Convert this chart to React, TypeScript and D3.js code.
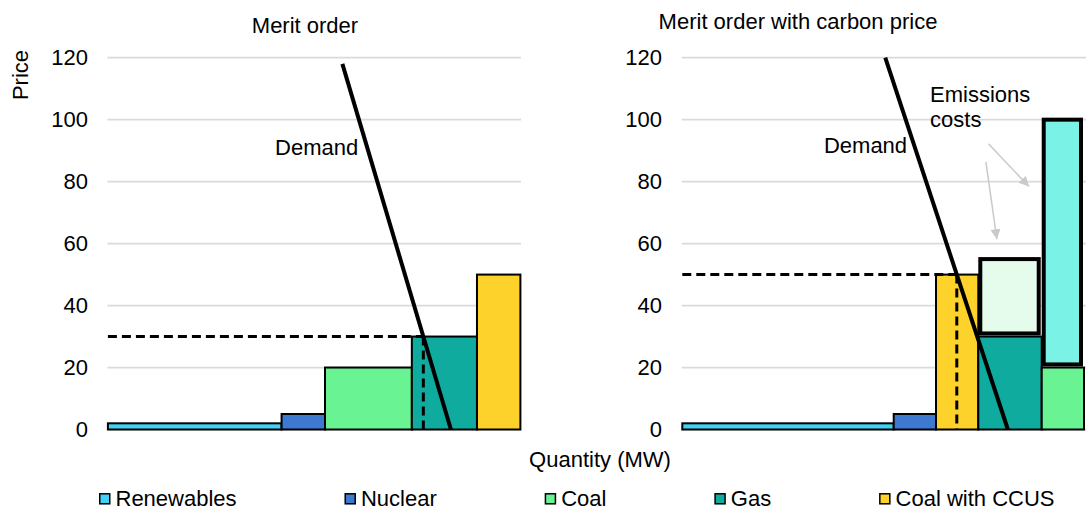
import React from "react";
import * as d3 from "d3";

// merit order, no carbon price
const leftTechs = ["Renewables", "Nuclear", "Coal", "Gas", "Coal with CCUS"];
const leftCapacity = [40, 10, 20, 15, 10];
const leftCost = [2, 5, 20, 30, 50];
const leftDemand: [number, number][] = [[54, 118], [79, 0]];
const leftClearing = 30;

// merit order with carbon price
const rightTechs = ["Renewables", "Nuclear", "Coal with CCUS", "Gas", "Coal"];
const rightCapacity = [50, 10, 10, 15, 10];
const rightCost = [2, 5, 50, 30, 20];
const rightCarbon = [0, 0, 0, 25, 80];
const rightDemand: [number, number][] = [[48, 120], [77, 0]];
const rightClearing = 50;

const yTicks = [0, 20, 40, 60, 80, 100, 120];
const legendItems = ["Renewables", "Nuclear", "Coal", "Gas", "Coal with CCUS"];

// annotation anchors (quantity, price)
const demandLabelLeft: [number, number] = [38.5, 88.6];
const demandLabelRight: [number, number] = [33.5, 89.3];
const emissionsLabel: [number, number] = [58.6, 105.8];
const emissionsArrows: { from: [number, number]; to: [number, number] }[] = [
  { from: [72.4, 92.2], to: [82, 78.4] },
  { from: [71.8, 86.4], to: [74.4, 61.4] },
];

const colors: Record<string, string> = {
  Renewables: "#42d0f6",
  Nuclear: "#3d79d1",
  Coal: "#69f393",
  Gas: "#10ab9f",
  "Coal with CCUS": "#fdd22b",
};
const carbonColors: Record<string, string> = {
  Gas: "#e5fcec",
  Coal: "#7af3e6",
};

const FONT = '"Liberation Sans", Arial, sans-serif';
const FS = 22;

const measure = (s: string) => {
  const ctx = document.createElement("canvas").getContext("2d");
  if (!ctx) return s.length * FS * 0.55;
  ctx.font = `${FS}px ${FONT}`;
  return ctx.measureText(s).width;
};

const W = 1086;
const H = 511;
const y = d3.scaleLinear().domain([0, 120]).range([429.5, 57.7]);

const clearingQ = (dem: [number, number][], p: number) => {
  const [[q0, p0], [q1, p1]] = dem;
  return q0 + ((q1 - q0) * (p0 - p)) / (p0 - p1);
};

interface PanelProps {
  x: d3.ScaleLinear<number, number>;
  gridX: [number, number];
  tickX: number;
  techs: string[];
  capacity: number[];
  cost: number[];
  carbon?: number[];
  demand: [number, number][];
  clearing: number;
}

const Panel = ({ x, gridX, tickX, techs, capacity, cost, carbon, demand, clearing }: PanelProps) => {
  const starts = d3.cumsum([0, ...capacity]);
  const cq = clearingQ(demand, clearing);
  const line = d3.line<[number, number]>().x((d) => x(d[0])).y((d) => y(d[1]));

  return (
    <g>
      {yTicks.map((t) => (
        <g key={t}>
          <line x1={gridX[0]} x2={gridX[1]} y1={y(t)} y2={y(t)} stroke="#dadada" strokeWidth={1.75} />
          <text x={tickX} y={y(t)} dy="0.35em" textAnchor="end" fontSize={FS} fontFamily={FONT} fill="#000">
            {t}
          </text>
        </g>
      ))}
      {techs.map((t, i) => (
        <rect
          key={t}
          x={x(starts[i])}
          y={y(cost[i])}
          width={x(starts[i + 1]) - x(starts[i])}
          height={y(0) - y(cost[i])}
          fill={colors[t]}
          stroke="#000"
          strokeWidth={2}
        />
      ))}
      {carbon &&
        techs.map((t, i) =>
          carbon[i] > 0 ? (
            <rect
              key={`c-${t}`}
              x={x(starts[i]) + 2}
              y={y(cost[i] + carbon[i])}
              width={x(starts[i + 1]) - x(starts[i]) - 5}
              height={y(cost[i] + 1) - y(cost[i] + carbon[i])}
              fill={carbonColors[t]}
              stroke="#000"
              strokeWidth={4}
            />
          ) : null
        )}
      <line x1={x(0)} x2={x(cq)} y1={y(clearing)} y2={y(clearing)} stroke="#000" strokeWidth={3} strokeDasharray="9,5" />
      <line x1={x(cq)} x2={x(cq)} y1={y(clearing)} y2={y(0)} stroke="#000" strokeWidth={3} strokeDasharray="9,5" />
      <path d={line(demand) ?? ""} stroke="#000" strokeWidth={4} fill="none" />
    </g>
  );
};

export default function App() {
  const xL = d3.scaleLinear().domain([0, 95]).range([107.9, 520.4]);
  const xR = d3.scaleLinear().domain([0, 95]).range([682.3, 1084]);

  // legend: equal gaps between items
  const sq = 11.5;
  const pad = 5;
  const widths = legendItems.map((s) => sq + pad + measure(s));
  const legStart = 99;
  const legEnd = 1054.5;
  const gap = (legEnd - legStart - d3.sum(widths)) / (legendItems.length - 1);
  const legX = widths.map((_, i) => legStart + d3.sum(widths.slice(0, i)) + gap * i);
  const legBase = 506;

  return (
    <svg width={W} height={H} style={{ position: "absolute", left: 0, top: 0, background: "#fff" }}>
      <defs>
        <marker id="arrowHead" viewBox="0 0 10 10" refX={10} refY={5} markerWidth={12} markerHeight={10} markerUnits="userSpaceOnUse" orient="auto">
          <path d="M0,0 L10,5 L0,10 Z" fill="#c9c9c9" />
        </marker>
      </defs>
      <rect width={W} height={H} fill="#fff" />

      <Panel x={xL} gridX={[107.3, 521]} tickX={88} techs={leftTechs} capacity={leftCapacity} cost={leftCost} demand={leftDemand} clearing={leftClearing} />
      <Panel x={xR} gridX={[681.7, 1086]} tickX={662} techs={rightTechs} capacity={rightCapacity} cost={rightCost} carbon={rightCarbon} demand={rightDemand} clearing={rightClearing} />

      <text x={305} y={33.3} textAnchor="middle" fontSize={FS} fontFamily={FONT}>Merit order</text>
      <text x={798} y={29.3} textAnchor="middle" fontSize={FS} fontFamily={FONT}>Merit order with carbon price</text>
      <text transform="translate(28,75) rotate(-90)" textAnchor="middle" fontSize={FS} fontFamily={FONT}>Price</text>
      <text x={600} y={467} textAnchor="middle" fontSize={FS} fontFamily={FONT}>Quantity (MW)</text>

      <text x={xL(demandLabelLeft[0])} y={y(demandLabelLeft[1])} fontSize={FS} fontFamily={FONT}>Demand</text>
      <text x={xR(demandLabelRight[0])} y={y(demandLabelRight[1])} fontSize={FS} fontFamily={FONT}>Demand</text>
      <text x={xR(emissionsLabel[0])} y={y(emissionsLabel[1])} fontSize={FS} fontFamily={FONT}>
        <tspan x={xR(emissionsLabel[0])}>Emissions</tspan>
        <tspan x={xR(emissionsLabel[0])} dy={25}>costs</tspan>
      </text>
      {emissionsArrows.map((a, i) => (
        <line
          key={i}
          x1={xR(a.from[0])}
          y1={y(a.from[1])}
          x2={xR(a.to[0])}
          y2={y(a.to[1])}
          stroke="#c9c9c9"
          strokeWidth={1.5}
          markerEnd="url(#arrowHead)"
        />
      ))}

      {legendItems.map((s, i) => (
        <g key={s} transform={`translate(${legX[i]},0)`}>
          <rect x={0.75} y={legBase - 12.2} width={sq - 1.5} height={sq - 1.5} fill={colors[s]} stroke="#000" strokeWidth={1.5} />
          <text x={sq + pad} y={legBase} fontSize={FS} fontFamily={FONT}>{s}</text>
        </g>
      ))}
    </svg>
  );
}
